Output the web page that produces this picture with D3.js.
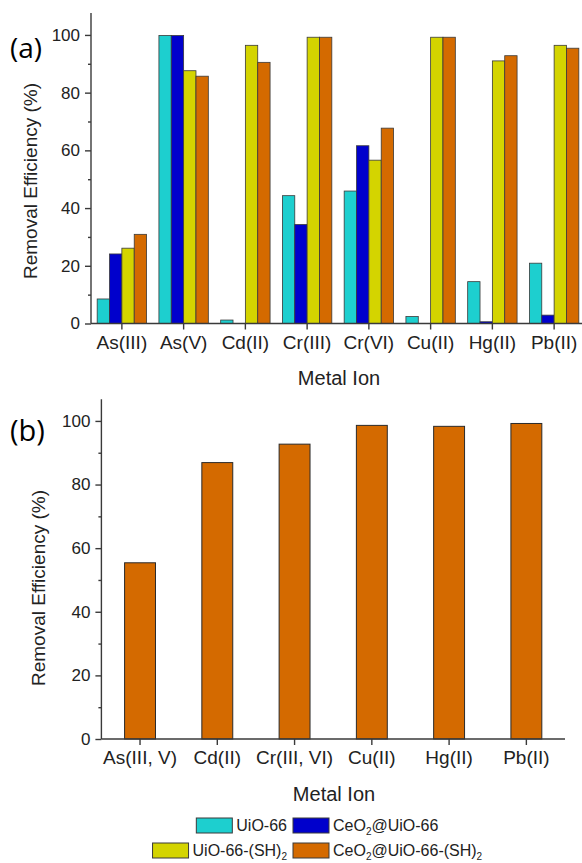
<!DOCTYPE html>
<html>
<head>
<meta charset="utf-8">
<script src="https://cdn.jsdelivr.net/npm/d3@7"></script>
<style>
  body { margin: 0; background: #fff; }
  svg { display: block; font-family: "Liberation Sans", Arial, sans-serif; }
  .axis path, .axis line { stroke: #3a3a3a; stroke-width: 1.4; }
  .axis text { fill: #222; font-family: "Liberation Sans", Arial, sans-serif; }
</style>
</head>
<body>
<div id="chart"></div>
<script>
// panel (a): removal efficiency of each single metal ion
var ionsA = ["As(III)", "As(V)", "Cd(II)", "Cr(III)", "Cr(VI)", "Cu(II)", "Hg(II)", "Pb(II)"];
var uio66 = [8.5, 99.8, 1.2, 44.3, 45.9, 2.4, 14.5, 20.9];
var ceo2Uio66 = [24.1, 99.8, 0, 34.3, 61.6, 0, 0.6, 2.9];
var uio66SH = [26.1, 87.6, 96.4, 99.2, 56.6, 99.2, 91.0, 96.4];
var ceo2Uio66SH = [30.9, 85.7, 90.5, 99.2, 67.7, 99.2, 92.8, 95.4];

// panel (b): mixed solution, CeO2@UiO-66-(SH)2 only
var ionsB = ["As(III, V)", "Cd(II)", "Cr(III, VI)", "Cu(II)", "Hg(II)", "Pb(II)"];
var mixedValues = [55.4, 86.9, 92.7, 98.6, 98.3, 99.2];

var seriesNames = ["UiO-66", "CeO_2@UiO-66", "UiO-66-(SH)_2", "CeO_2@UiO-66-(SH)_2"];
var seriesColors = ["#1dcfcf", "#0000cc", "#d4d400", "#d46a00"];
var majorTicks = [0, 20, 40, 60, 80, 100];
var minorTicks = [10, 30, 50, 70, 90];

var W = 582, H = 863;
var FONT = "'Liberation Sans', Arial, sans-serif";

var svg = d3.select("#chart").append("svg")
    .attr("width", W)
    .attr("height", H);

var seriesA = [uio66, ceo2Uio66, uio66SH, ceo2Uio66SH];

// ---------- panel (a) ----------
var xa = d3.scaleBand()
    .domain(ionsA)
    .range([91, 585])
    .paddingInner(0.2)
    .paddingOuter(0.1);

var xaInner = d3.scaleBand()
    .domain(d3.range(seriesA.length))
    .range([0, xa.bandwidth()]);

var ya = d3.scaleLinear()
    .domain([0, 107.6])
    .range([323.5, 13]);

var ga = svg.append("g");

var groups = ga.selectAll("g.group")
    .data(ionsA)
    .enter().append("g")
    .attr("class", "group")
    .attr("transform", function (d) { return "translate(" + xa(d) + ",0)"; });

groups.selectAll("rect")
    .data(function (d, i) {
        return seriesA.map(function (s, k) { return {k: k, v: s[i]}; })
            .filter(function (e) { return e.v > 0; });
    })
    .enter().append("rect")
    .attr("x", function (d) { return xaInner(d.k); })
    .attr("y", function (d) { return ya(d.v); })
    .attr("width", xaInner.bandwidth())
    .attr("height", function (d) { return ya(0) - ya(d.v); })
    .attr("fill", function (d) { return seriesColors[d.k]; })
    .attr("stroke", "#3a3a3a")
    .attr("stroke-width", 0.8);

drawAxes(ga, xa, ya, 91, 323.5, 582);

ga.append("text")
    .attr("x", 10)
    .attr("y", 58)
    .style("font-family", "'Open Sans', 'Noto Sans', sans-serif")
    .style("font-size", "28px")
    .text("(a)");

ga.append("text")
    .attr("transform", "translate(37,181) rotate(-90)")
    .attr("text-anchor", "middle")
    .style("font-size", "19px")
    .attr("fill", "#222")
    .text("Removal Efficiency (%)");

ga.append("text")
    .attr("x", 339)
    .attr("y", 385)
    .attr("text-anchor", "middle")
    .style("font-size", "20px")
    .attr("fill", "#222")
    .text("Metal Ion");

// ---------- panel (b) ----------
var xb = d3.scaleBand()
    .domain(ionsB)
    .range([101.4, 565])
    .paddingInner(0.6)
    .paddingOuter(0.3);

var yb = d3.scaleLinear()
    .domain([0, 106.8])
    .range([739, 399.3]);

var gb = svg.append("g");

gb.selectAll("rect")
    .data(mixedValues)
    .enter().append("rect")
    .attr("x", function (d, i) { return xb(ionsB[i]); })
    .attr("y", function (d) { return yb(d); })
    .attr("width", xb.bandwidth())
    .attr("height", function (d) { return yb(0) - yb(d); })
    .attr("fill", seriesColors[3])
    .attr("stroke", "#2a2a2a")
    .attr("stroke-width", 1);

drawAxes(gb, xb, yb, 101.4, 739, 565);

gb.append("text")
    .attr("x", 10)
    .attr("y", 441)
    .style("font-family", "'Open Sans', 'Noto Sans', sans-serif")
    .style("font-size", "29px")
    .text("(b)");

gb.append("text")
    .attr("transform", "translate(45,588) rotate(-90)")
    .attr("text-anchor", "middle")
    .style("font-size", "19px")
    .attr("fill", "#222")
    .text("Removal Efficiency (%)");

gb.append("text")
    .attr("x", 334)
    .attr("y", 801)
    .attr("text-anchor", "middle")
    .style("font-size", "20px")
    .attr("fill", "#222")
    .text("Metal Ion");

// ---------- legend ----------
var legend = svg.append("g");
var legendRows = [831, 856];
var swW = 36, swH = 15;

seriesNames.forEach(function (name, i) {
    var row = Math.floor(i / 2), col = i % 2;
    var item = legend.append("g");
    var t = item.append("text")
        .attr("y", legendRows[row])
        .style("font-size", "16px")
        .attr("fill", "#222");
    richText(t, name);
    var len = t.node().getComputedTextLength();
    var textX = col === 0 ? 287 - len : 333;
    t.attr("x", textX);
    item.append("rect")
        .attr("x", textX - 4 - swW)
        .attr("y", legendRows[row] - 13)
        .attr("width", swW)
        .attr("height", swH)
        .attr("fill", seriesColors[i])
        .attr("stroke", "#3a3a3a")
        .attr("stroke-width", 1);
});

function richText(sel, s) {
    var parts = s.split("_");
    sel.append("tspan").text(parts[0]);
    for (var i = 1; i < parts.length; i++) {
        sel.append("tspan")
            .attr("dy", 4)
            .style("font-size", "10px")
            .text(parts[i].charAt(0));
        sel.append("tspan")
            .attr("dy", -4)
            .text(parts[i].slice(1));
    }
}

function drawAxes(g, x, y, x0, y0, xEnd) {
    // bottom axis
    var xAxis = g.append("g")
        .attr("class", "axis")
        .attr("transform", "translate(0," + y0 + ")")
        .call(d3.axisBottom(x).tickSize(6).tickSizeOuter(0).tickPadding(6));
    xAxis.attr("font-family", FONT);
    xAxis.select(".domain").attr("d", "M" + x0 + ",0H" + xEnd);
    xAxis.selectAll("text").style("font-size", "19px");

    // left axis, major + minor ticks
    var yAxis = g.append("g")
        .attr("class", "axis")
        .attr("transform", "translate(" + x0 + ",0)")
        .call(d3.axisLeft(y).tickValues(majorTicks).tickSize(6).tickSizeOuter(0).tickPadding(5));
    yAxis.attr("font-family", FONT);
    yAxis.select(".domain").attr("d", "M0," + y.range()[1] + "V" + y0);
    yAxis.selectAll("text").style("font-size", "17px");

    g.append("g")
        .attr("class", "axis")
        .attr("transform", "translate(" + x0 + ",0)")
        .call(d3.axisLeft(y).tickValues(minorTicks).tickSize(3).tickFormat(""))
        .select(".domain").remove();
}
</script>
</body>
</html>
